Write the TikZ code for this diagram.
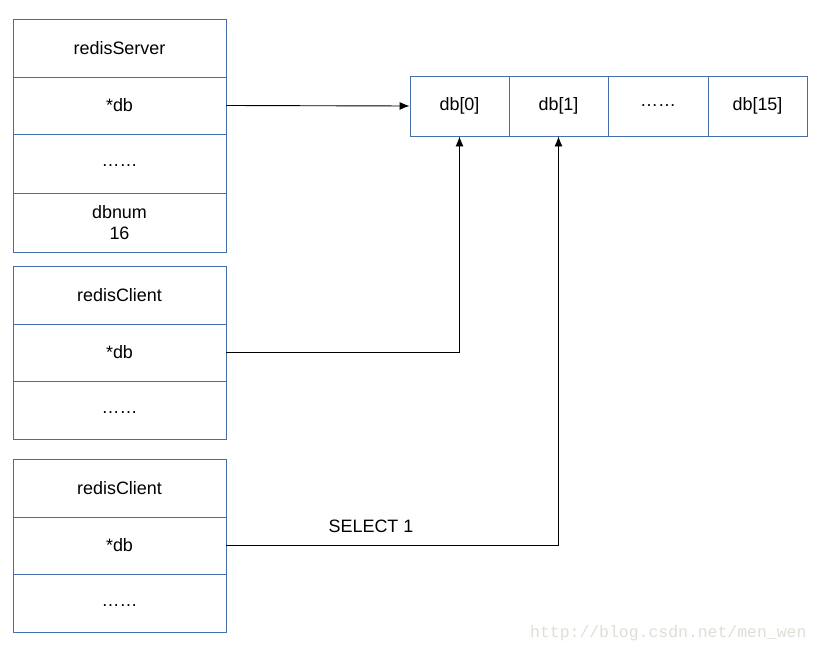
\documentclass[tikz,border=0pt]{standalone}
\usepackage{fontspec}
\setmainfont{Liberation Sans}
\newfontfamily\wmfont{Liberation Mono}
\usetikzlibrary{arrows.meta}
\definecolor{boxblue}{RGB}{70,110,170}
\definecolor{wmgray}{RGB}{222,222,214}
\newcommand{\lowdots}{\smash{\raisebox{-3bp}{\ldots\ldots}}}
\begin{document}
\begin{tikzpicture}[x=1bp,y=-1bp,
  lbl/.style={font=\fontsize{18}{21}\selectfont},
  cell/.style={draw=boxblue,line width=0.9bp,minimum width=213bp,minimum height=58bp,inner sep=0pt,align=center,lbl},
  acell/.style={draw=boxblue,line width=0.9bp,minimum width=99bp,minimum height=60bp,inner sep=0pt,lbl},
  conn/.style={draw=black,line width=0.9bp,-{Latex[length=10bp,width=8bp]}}]
\useasboundingbox (0,0) rectangle (823,653);
% redisServer
\node[cell,minimum height=58bp] (s1) at (119.5,48) {redisServer};
\node[cell,minimum height=57bp] (s2) at (119.5,105.5) {*db};
\node[cell,minimum height=59bp] (s3) at (119.5,163.5) {\lowdots};
\node[cell,minimum height=59bp] (s4) at (119.5,222.5) {dbnum\\16};
% client 1
\node[cell] (c1) at (119.5,295) {redisClient};
\node[cell,minimum height=57bp] (c2) at (119.5,352.5) {*db};
\node[cell] (c3) at (119.5,410) {\lowdots};
% client 2
\node[cell] (d1) at (119.5,488) {redisClient};
\node[cell,minimum height=57bp] (d2) at (119.5,545.5) {*db};
\node[cell] (d3) at (119.5,603) {\lowdots};
% array
\node[acell] (a0) at (459.5,106) {db[0]};
\node[acell] (a1) at (558.5,106) {db[1]};
\node[acell,minimum width=100bp] (a2) at (658,106) {\ldots\ldots};
\node[acell] (a3) at (757.5,106) {db[15]};
% connectors
\draw[conn] (s2.east) -- (a0.west);
\draw[conn] (c2.east) -| (a0.south);
\draw[conn] (d2.east) -| (a1.south);
\node[lbl] (sel) at (371,526) {SELECT 1};
% watermark
\node[anchor=west,text=wmgray,font=\wmfont\fontsize{16.5}{18}\selectfont,inner sep=0pt] (wm) at (530,633) {http://blog.csdn.net/men\_wen};
\end{tikzpicture}
\end{document}
